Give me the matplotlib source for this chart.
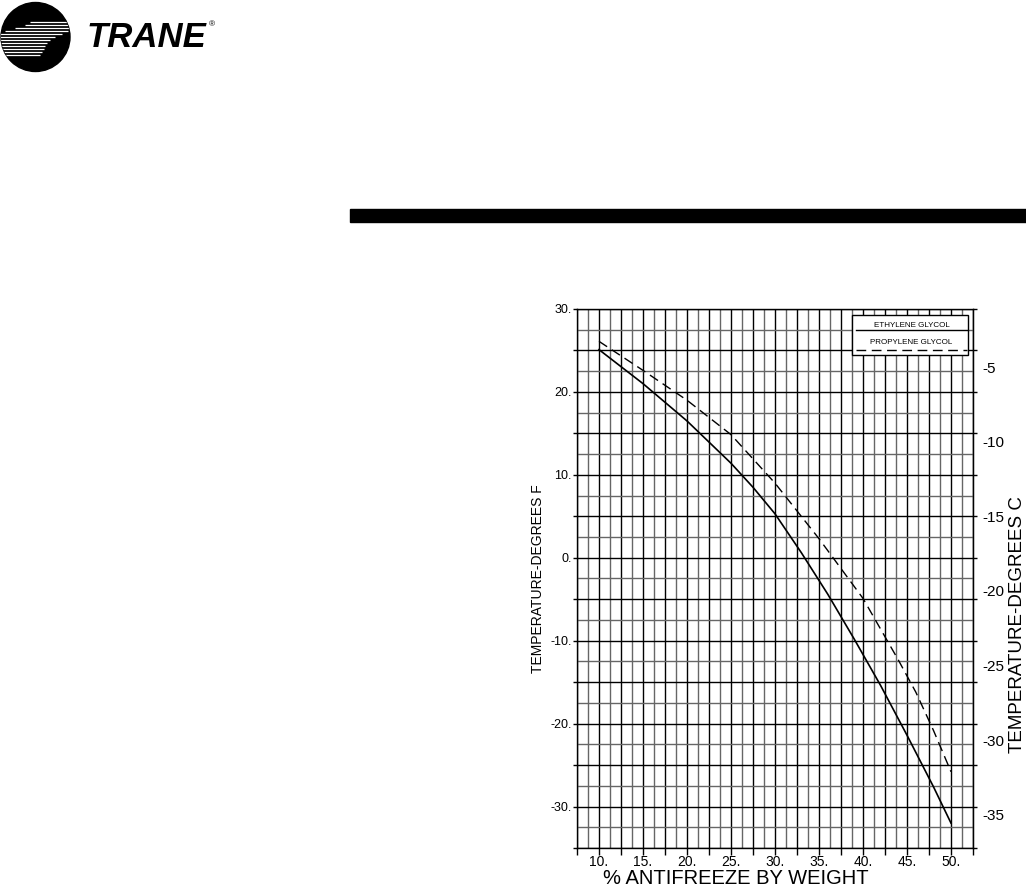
import numpy as np
import matplotlib
matplotlib.use('Agg')
import matplotlib.pyplot as plt
from matplotlib.patches import Circle, Rectangle

# ---------------------------------------------------------------------------
# Data
# ---------------------------------------------------------------------------
ethylene_pct = [10, 15, 20, 25, 27.5, 30, 33, 36, 39, 42, 45, 48, 50]
ethylene_F = [25.1, 21.0, 16.5, 11.4, 8.5, 5.3, 0.6, -4.4, -9.8, -15.4, -21.4, -27.6, -32.0]

propylene_pct = [10, 15, 20, 25, 30, 35, 40, 44, 46, 48, 50]
propylene_F = [26.1, 22.6, 19.0, 14.85, 9.0, 2.3, -4.9, -12.3, -16.2, -20.8, -25.8]

x_ticks = [10, 15, 20, 25, 30, 35, 40, 45, 50]
x_labels = ['10.', '15.', '20.', '25.', '30.', '35.', '40.', '45.', '50.']
yF_ticks = [30, 20, 10, 0, -10, -20, -30]
yF_labels = ['30.', '20.', '10.', '0.', '-10.', '-20.', '-30.']
yC_ticks = [-5, -10, -15, -20, -25, -30, -35]
yC_labels = ['-5', '-10', '-15', '-20', '-25', '-30', '-35']

W, H = 1026, 886
fig = plt.figure(figsize=(W / 100, H / 100), dpi=100)
plt.rcParams['font.family'] = ['Liberation Sans', 'DejaVu Sans']

def px(x0, y0, w, h):
    """pixel box (top-left origin) -> figure fraction rect"""
    return [x0 / W, 1 - (y0 + h) / H, w / W, h / H]

# ---------------------------------------------------------------------------
# Header: logo, name, black rule
# ---------------------------------------------------------------------------
lax = fig.add_axes(px(0, 0, 76, 76))
lax.set_xlim(0, 76)
lax.set_ylim(76, 0)
lax.axis('off')
circ = Circle((35.5, 37), 34.5, color='black')
lax.add_patch(circ)
stripe_y = [22, 25, 28, 31, 34, 37, 40, 43, 46, 49, 52, 55]
stripe_x0 = [30, 25, 15, 5, 0, 0, 0, 0, 0, 0, 0, 0]
stripe_x1 = [72, 72, 70, 68, 62, 55, 50, 47, 45, 44, 42, 40]
for yy, a, b in zip(stripe_y, stripe_x0, stripe_x1):
    ln, = lax.plot([a, b], [yy, yy], color='white', lw=0.9, solid_capstyle='butt')
    ln.set_clip_path(circ)

fig.text(87 / W, 1 - 47 / H, 'TRANE', fontsize=25, fontweight='bold',
         fontstyle='italic', family='Liberation Sans', ha='left', va='baseline')
fig.text(209 / W, 1 - 26 / H, '®', fontsize=6, ha='left', va='baseline')

fig.patches.append(Rectangle((350 / W, 1 - 222 / H), (W - 350) / W, 13 / H,
                             transform=fig.transFigure, color='black'))

# ---------------------------------------------------------------------------
# Chart
# ---------------------------------------------------------------------------
ax = fig.add_axes(px(577, 309, 396, 539))
ax.set_xlim(7.5, 52.5)
ax.set_ylim(-35, 30)

for i, xv in enumerate(np.arange(7.5, 52.6, 1.25)):
    ax.axvline(xv, color='black' if i % 2 == 0 else '#666666', lw=1.0, zorder=1)
for i, yv in enumerate(np.arange(-35, 30.1, 2.5)):
    ax.axhline(yv, color='black' if i % 2 == 0 else '#666666', lw=1.0, zorder=1)

ax.plot(ethylene_pct, ethylene_F, color='black', lw=1.2, zorder=3)
ax.plot(propylene_pct, propylene_F, color='black', lw=1.0, dashes=(7, 4), zorder=3)

for s in ax.spines.values():
    s.set_linewidth(1.0)

ax.set_xticks(x_ticks)
ax.set_xticklabels(x_labels, fontsize=10)
ax.set_xticks(np.arange(7.5, 52.6, 2.5), minor=True)
ax.tick_params(axis='x', which='both', direction='out', length=5, width=1, pad=0)

ax.set_yticks(yF_ticks)
ax.set_yticklabels(yF_labels, fontsize=9)
ax.set_yticks(np.arange(-35, 30.1, 5), minor=True)
ax.tick_params(axis='y', which='both', direction='out', length=3, width=1, pad=1,
               right=True)

ax.set_ylabel('TEMPERATURE-DEGREES F', fontsize=10, labelpad=4)
fig.text(736 / W, 1 - 884 / H, '% ANTIFREEZE BY WEIGHT', fontsize=14.5,
         ha='center', va='baseline')

sec = ax.secondary_yaxis('right', functions=(lambda f: (f - 32) / 1.8,
                                               lambda c: c * 1.8 + 32))
sec.set_yticks(yC_ticks)
sec.set_yticklabels(yC_labels, fontsize=11)
sec.tick_params(length=0, pad=7)
fig.text(1017 / W, 1 - 625 / H, 'TEMPERATURE-DEGREES C', fontsize=13.5,
         rotation=90, ha='center', va='center')

# legend box
ax.add_patch(Rectangle((0.694, 0.915), 0.294, 0.074, transform=ax.transAxes,
                       facecolor='white', edgecolor='black', lw=1.0, zorder=5))
ax.text(0.845, 0.970, 'ETHYLENE GLYCOL', transform=ax.transAxes, fontsize=5.8,
        ha='center', va='center', zorder=6)
ax.plot([0.704, 0.986], [0.961, 0.961], transform=ax.transAxes, color='black',
        lw=1.0, zorder=6)
ax.text(0.845, 0.9375, 'PROPYLENE GLYCOL', transform=ax.transAxes, fontsize=5.8,
        ha='center', va='center', zorder=6)
ax.plot([0.704, 0.986], [0.924, 0.924], transform=ax.transAxes, color='black',
        lw=1.0, dashes=(7, 4), zorder=6)

fig.savefig('out.png', dpi=100)
